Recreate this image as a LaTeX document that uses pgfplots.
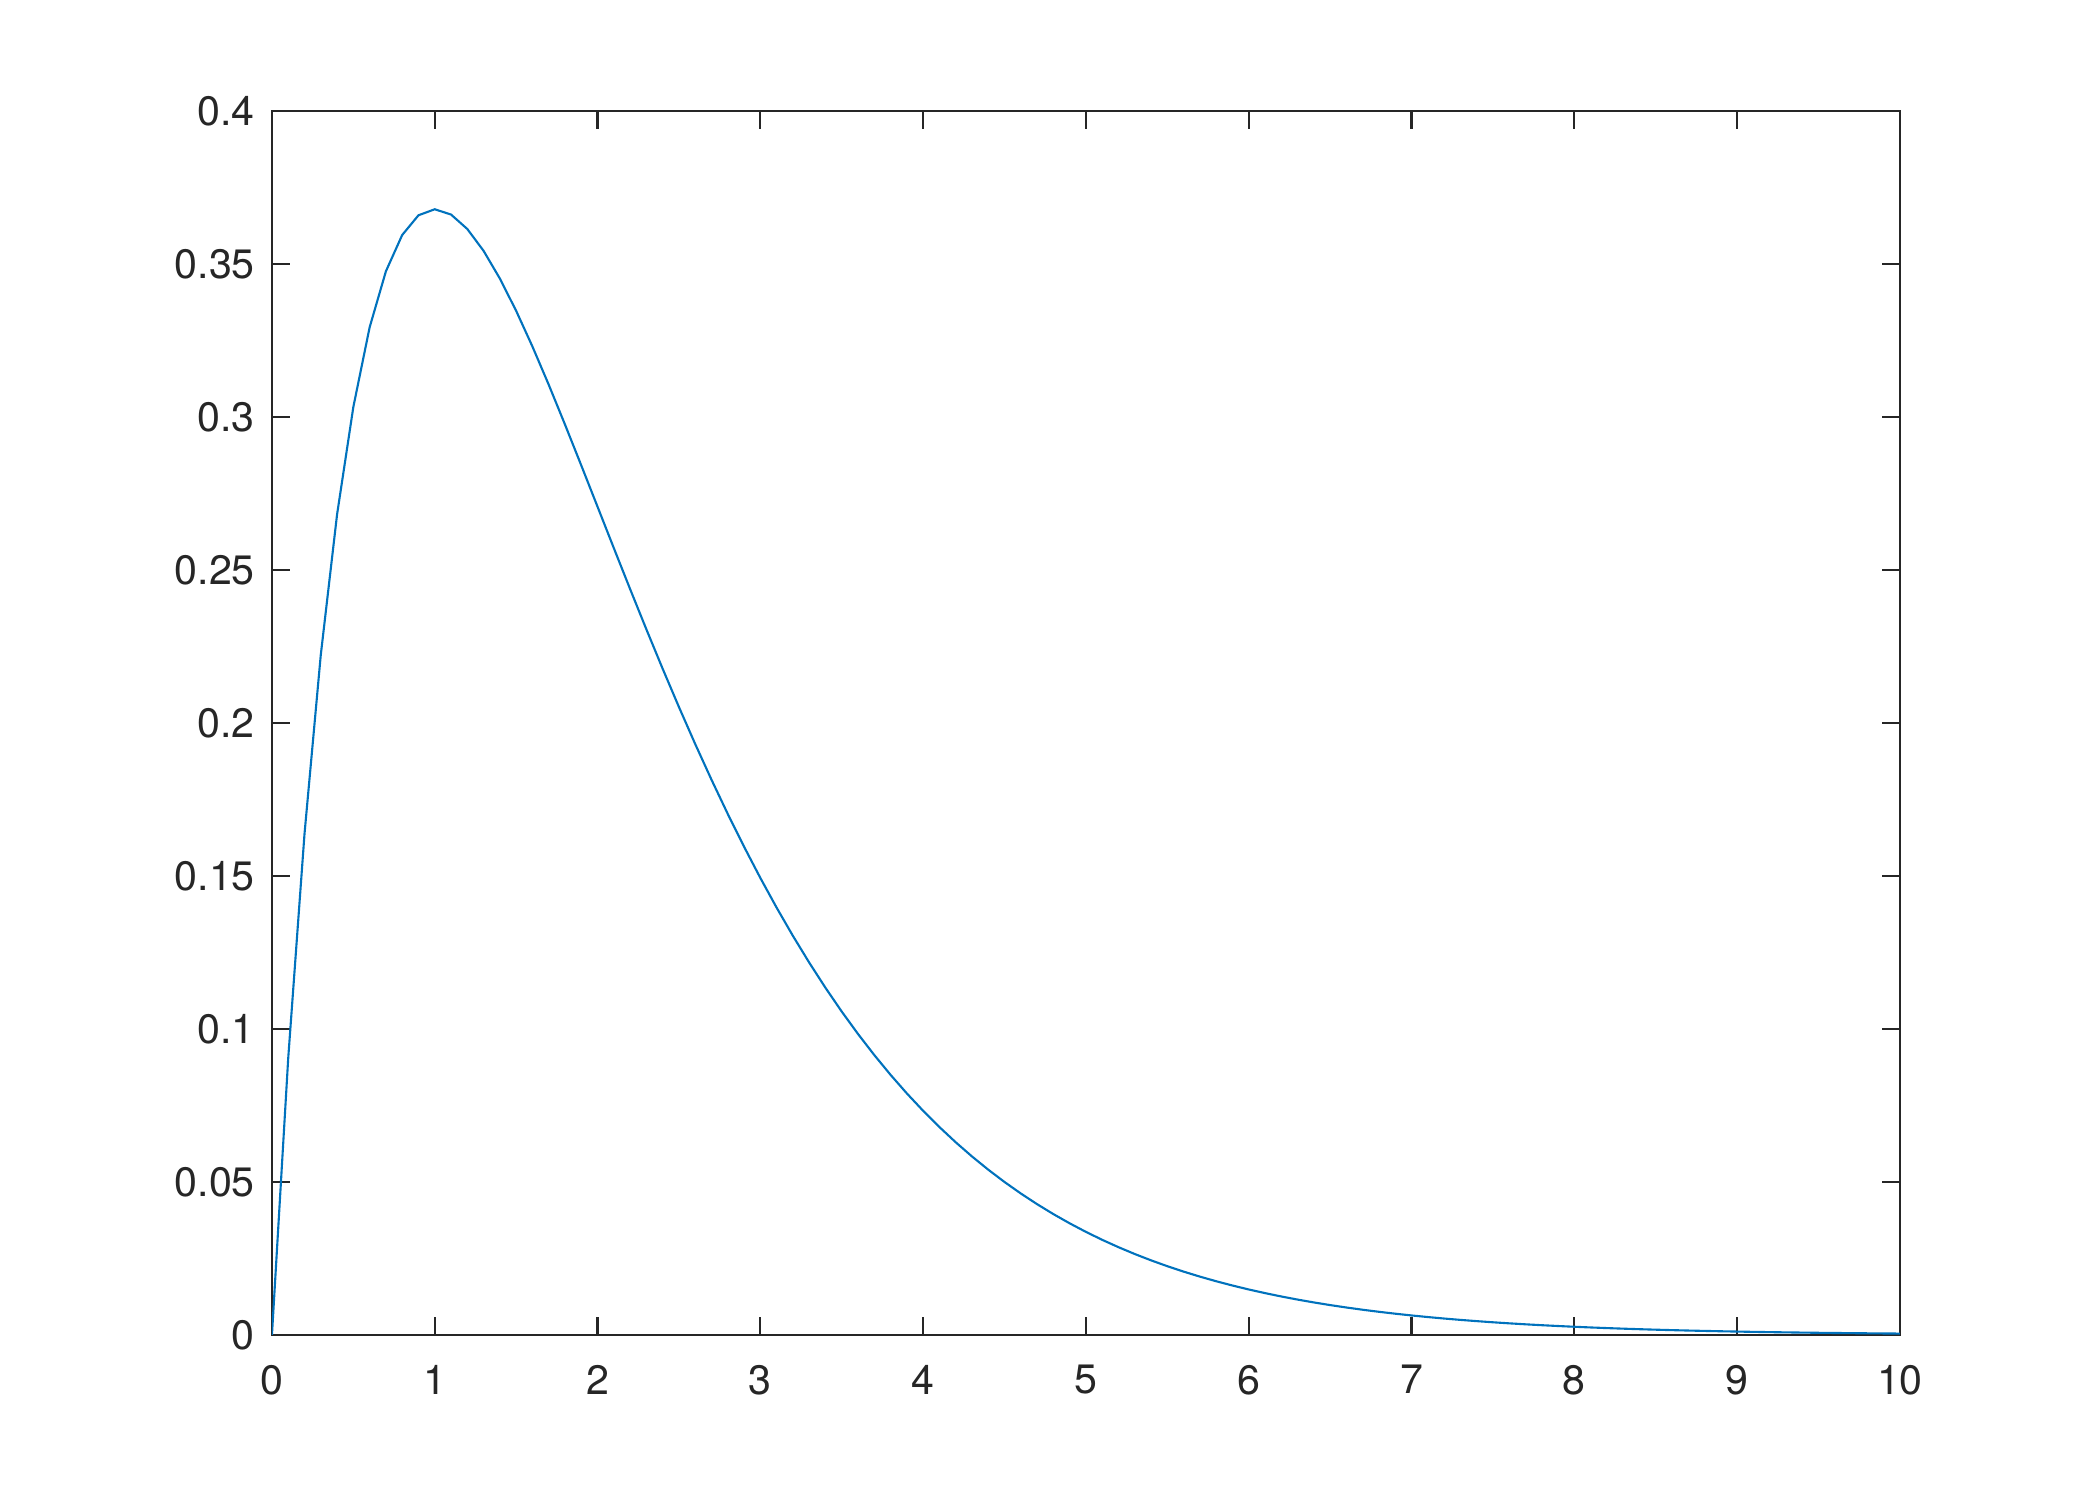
\documentclass[border=0pt]{standalone}
\usepackage{fontspec}
\setmainfont{TeX Gyre Heros}
\usepackage{pgfplots}
\pgfplotsset{compat=1.18}
\definecolor{mblue}{rgb}{0,0.447,0.741}
\definecolor{axgray}{rgb}{0.15,0.15,0.15}

\pgfplotstableread{
x y
0.0 0
0.1 0.090484
0.2 0.163746
0.3 0.222245
0.4 0.268128
0.5 0.303265
0.6 0.329287
0.7 0.347610
0.8 0.359463
0.9 0.365913
1.0 0.367879
1.1 0.366158
1.2 0.361433
1.3 0.354291
1.4 0.345236
1.5 0.334695
1.6 0.323034
1.7 0.310562
1.8 0.297538
1.9 0.284180
2.0 0.270671
2.1 0.257158
2.2 0.243767
2.3 0.230595
2.4 0.217723
2.5 0.205212
2.6 0.193111
2.7 0.181455
2.8 0.170268
2.9 0.159567
3.0 0.149361
3.1 0.139652
3.2 0.130438
3.3 0.121714
3.4 0.113468
3.5 0.105691
3.6 0.098365
3.7 0.091477
3.8 0.085009
3.9 0.078943
4.0 0.073263
4.1 0.067948
4.2 0.062981
4.3 0.058345
4.4 0.054020
4.5 0.049990
4.6 0.046238
4.7 0.042748
4.8 0.039503
4.9 0.036489
5.0 0.033690
5.1 0.031093
5.2 0.028687
5.3 0.026456
5.4 0.024390
5.5 0.022477
5.6 0.020708
5.7 0.019072
5.8 0.017560
5.9 0.016163
6.0 0.014873
6.1 0.013682
6.2 0.012582
6.3 0.011568
6.4 0.010634
6.5 0.009772
6.6 0.008978
6.7 0.008247
6.8 0.007573
6.9 0.006954
7.0 0.006383
7.1 0.005859
7.2 0.005377
7.3 0.004933
7.4 0.004525
7.5 0.004148
7.6 0.003803
7.7 0.003486
7.8 0.003194
7.9 0.002927
8.0 0.002684
8.1 0.002459
8.2 0.002252
8.3 0.002063
8.4 0.001889
8.5 0.001730
8.6 0.001583
8.7 0.001449
8.8 0.001327
8.9 0.001214
9.0 0.001111
9.1 0.001017
9.2 0.000930
9.3 0.000851
9.4 0.000779
9.5 0.000712
9.6 0.000652
9.7 0.000596
9.8 0.000545
9.9 0.000498
10.0 0.000454
}\curve

\begin{document}
\begin{tikzpicture}
% page: 2100x1500 px -> 14cm x 10cm
\useasboundingbox (-1.813,-1.100) rectangle (12.187,8.900);
\begin{axis}[
    at={(0,0)}, anchor=south west,
    scale only axis,
    width=10.853cm, height=8.160cm,
    xmin=0, xmax=10, ymin=0, ymax=0.4,
    xtick={0,1,...,10},
    ytick={0,0.05,...,0.4},
    scaled y ticks=false,
    yticklabel style={/pgf/number format/fixed, /pgf/number format/precision=2},
    /pgf/number format/assume math mode=true,
    tick align=inside,
    major tick length=0.118cm,
    axis line style={axgray, line width=0.4pt},
    every tick/.style={axgray, line width=0.4pt},
    tick label style={font=\fontsize{7.8}{9}\selectfont, text=axgray},
    xticklabel style={yshift=-0.075cm},
    yticklabel style={xshift=0.01cm},
]
\addplot[mblue, line width=0.4pt, mark=none] table[x=x,y=y] {\curve};
\end{axis}
\end{tikzpicture}
\end{document}
